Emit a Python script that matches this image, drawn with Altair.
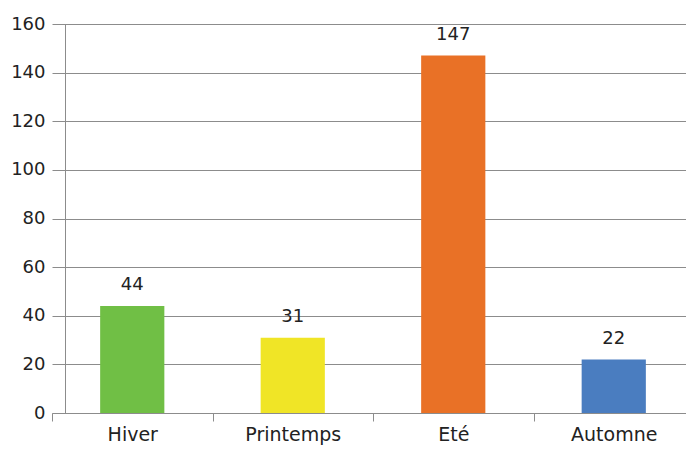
import altair as alt
import pandas as pd

seasons = ["Hiver", "Printemps", "Eté", "Automne"]
values = [44, 31, 147, 22]
colors = ["#70BF45", "#F0E526", "#E97126", "#4A7DC0"]

df = pd.DataFrame({"season": seasons, "value": values})

FONT = "DejaVu Sans"

x = alt.X(
    "season:N",
    sort=seasons,
    title=None,
    scale=alt.Scale(paddingInner=0, paddingOuter=0, range=[0, 642]),
    axis=alt.Axis(
        labelAngle=0,
        tickBand="extent",
        tickSize=8,
        labelPadding=4,
        labelFontSize=19,
        labelFont=FONT,
        labelColor="#222222",
        domainColor="#8c8c8c",
        tickColor="#8c8c8c",
        grid=False,
    ),
)

y = alt.Y(
    "value:Q",
    title=None,
    scale=alt.Scale(domain=[0, 160], nice=False),
    axis=alt.Axis(
        values=[0, 20, 40, 60, 80, 100, 120, 140, 160],
        offset=-13,
        tickSize=8,
        labelPadding=12,
        labelFontSize=18,
        labelFont=FONT,
        labelColor="#222222",
        domainColor="#8c8c8c",
        tickColor="#8c8c8c",
        gridColor="#8c8c8c",
        gridWidth=1,
        grid=True,
    ),
)

bars = alt.Chart(df).mark_bar(width={"band": 0.4}).encode(
    x=x,
    y=y,
    color=alt.Color("season:N", scale=alt.Scale(domain=seasons, range=colors), legend=None),
)

labels = alt.Chart(df).mark_text(
    baseline="bottom", dy=-12, fontSize=18, font=FONT, color="#222222"
).encode(
    x=alt.X("season:N", sort=seasons),
    y=alt.Y("value:Q"),
    text="value:Q",
)

chart = (
    (bars + labels)
    .properties(
        width=634,
        height=389,
        autosize=alt.AutoSizeParams(type="none"),
        padding={"left": 44, "top": 16, "right": 0, "bottom": 37},
    )
    .configure_view(stroke=None)
)

chart.save("out.html", embed_options={"renderer": "svg", "actions": False})
